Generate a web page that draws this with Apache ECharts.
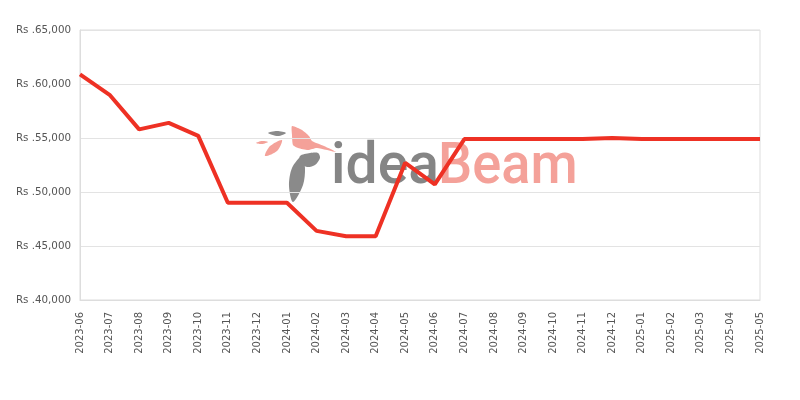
<!DOCTYPE html>
<html>
<head>
<meta charset="utf-8">
<script src="https://cdn.jsdelivr.net/npm/echarts@6/dist/echarts.min.js"></script>
<style>html,body{margin:0;padding:0;background:#fff}#c{width:800px;height:400px}</style>
</head>
<body>
<div id="c"></div>
<script>
var categories = ['2023-06','2023-07','2023-08','2023-09','2023-10','2023-11','2023-12','2024-01','2024-02','2024-03','2024-04','2024-05','2024-06','2024-07','2024-08','2024-09','2024-10','2024-11','2024-12','2025-01','2025-02','2025-03','2025-04','2025-05'];
var prices = [60900,59000,55800,56400,55200,49000,49000,49000,46400,45900,45900,52700,50700,54900,54900,54900,54900,54900,55000,54900,54900,54900,54900,54900];
var yMin = 40000, yMax = 65000, yStep = 5000;

function blob(pts, color, sm) {
  return {type: 'polygon', silent: true, z: 0, shape: {points: pts, smooth: sm === undefined ? 0.3 : sm}, style: {fill: color}};
}

var chart = echarts.init(document.getElementById('c'));
chart.setOption({
  animation: false,
  grid: {left: 80, right: 40, top: 30, bottom: 100, show: true, borderColor: '#dddddd', borderWidth: 1},
  graphic: [
    blob([[292,126],[302,130],[309,136],[312,141],[324,146],[336,152],[317,148],[308,150],[298,148],[293,145],[292,135]], '#f4a199', 0.2),
    blob([[300,156],[310,153],[318,153],[320,158],[315,165],[307,167],[301,163]], '#8a8a8a', 0.3),
    blob([[302,156],[305,168],[303,185],[293,202],[289,186],[292,168]], '#8a8a8a', 0.3),
    blob([[282,140],[277,151],[265,156],[270,146]], '#f4a199', 0.3),
    blob([[268,133],[277,131],[286,133],[278,136]], '#8a8a8a', 0.3),
    blob([[256,143],[262,141],[268,142],[262,144]], '#f4a199', 0.3),
    {type: 'text', silent: true, z: 0, left: 331, top: 140, style: {text: 'idea', font: '500 57px Roboto', fill: '#858585'}},
    {type: 'text', silent: true, z: 0, left: 438, top: 140, scaleX: 0.95, style: {text: 'Beam', font: '500 57px Roboto', fill: '#f4a199'}}
  ],
  xAxis: {
    type: 'category', data: categories, boundaryGap: false,
    axisLine: {lineStyle: {color: '#dddddd'}},
    axisTick: {show: false},
    axisLabel: {rotate: 90, color: '#555', fontSize: 10, fontFamily: 'DejaVu Sans', margin: 12, interval: 0},
    splitLine: {show: false}
  },
  yAxis: {
    type: 'value', min: yMin, max: yMax, interval: yStep,
    axisLine: {show: true, lineStyle: {color: '#dddddd'}},
    axisTick: {show: false},
    axisLabel: {color: '#555', fontSize: 10.3, fontFamily: 'DejaVu Sans', margin: 9,
      formatter: function (v) { return 'Rs .' + v.toLocaleString('en-US'); }},
    splitLine: {lineStyle: {color: '#e3e3e3'}}
  },
  series: [{
    type: 'line', data: prices, symbol: 'none', z: 5,
    lineStyle: {color: '#ee3124', width: 4}
  }]
});
</script>
</body>
</html>
